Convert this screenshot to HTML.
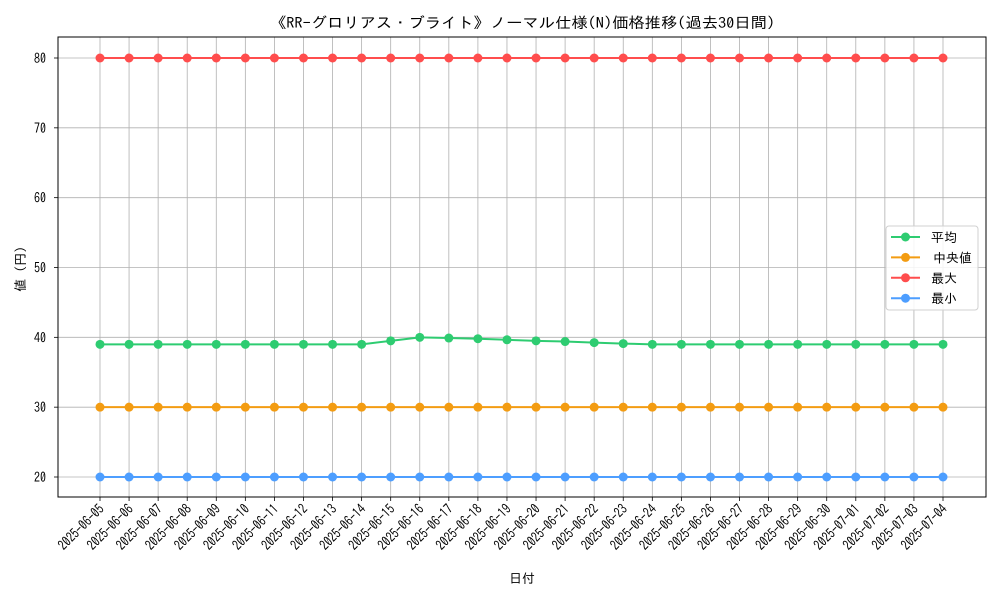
<!DOCTYPE html>
<html><head><meta charset="utf-8"><style>
html,body{margin:0;padding:0;background:#fff;}
svg{display:block;font-family:"IPAGothic","Liberation Sans","Noto Sans CJK JP",sans-serif;}
</style></head><body>
<svg id="chart" width="1000" height="600" viewBox="0 0 1000 600" xmlns="http://www.w3.org/2000/svg">
<rect width="1000" height="600" fill="#fff"/>
<text x="270" y="28" font-size="15" textLength="505" lengthAdjust="spacingAndGlyphs" fill="#000">《RR-グロリアス・ブライト》ノーマル仕様(N)価格推移(過去30日間)</text>
<g id="grid"></g>
<g id="series"></g>
<rect x="58" y="37" width="928" height="460" fill="none" stroke="#000" stroke-width="1"/>
<g id="axes"></g>
<text x="0" y="0" font-size="13" text-anchor="middle" transform="translate(25,269) rotate(-90)">値 (円)</text>
<text x="522" y="583" font-size="13" text-anchor="middle">日付</text>
<g id="legend"></g>
</svg>
<script>
const dates = ["2025-06-05","2025-06-06","2025-06-07","2025-06-08","2025-06-09","2025-06-10","2025-06-11","2025-06-12","2025-06-13","2025-06-14","2025-06-15","2025-06-16","2025-06-17","2025-06-18","2025-06-19","2025-06-20","2025-06-21","2025-06-22","2025-06-23","2025-06-24","2025-06-25","2025-06-26","2025-06-27","2025-06-28","2025-06-29","2025-06-30","2025-07-01","2025-07-02","2025-07-03","2025-07-04"];
const avgValues = [39,39,39,39,39,39,39,39,39,39,39.5,40,39.9,39.8,39.65,39.5,39.4,39.25,39.1,39,39,39,39,39,39,39,39,39,39,39];
const medianValues = [30,30,30,30,30,30,30,30,30,30,30,30,30,30,30,30,30,30,30,30,30,30,30,30,30,30,30,30,30,30];
const maxValues = [80,80,80,80,80,80,80,80,80,80,80,80,80,80,80,80,80,80,80,80,80,80,80,80,80,80,80,80,80,80];
const minValues = [20,20,20,20,20,20,20,20,20,20,20,20,20,20,20,20,20,20,20,20,20,20,20,20,20,20,20,20,20,20];
const yTicks = [20,30,40,50,60,70,80];
const seriesNames = ["平均","中央値","最大","最小"];

const NS="http://www.w3.org/2000/svg";
const X0=100, X1=943, Y20=477, Y80=58;
function xs(i){return X0+(X1-X0)*i/(dates.length-1);}
function ys(v){return Y20+(v-20)*(Y80-Y20)/60;}
function mk(tag,attrs,parent){const e=document.createElementNS(NS,tag);for(const k in attrs)e.setAttribute(k,attrs[k]);parent.appendChild(e);return e;}
const grid=document.getElementById('grid'), axes=document.getElementById('axes'), ser=document.getElementById('series'), leg=document.getElementById('legend');
dates.forEach((d,i)=>{
  const x=xs(i);
  const g=mk('line',{x1:x,x2:x,y1:37,y2:497,stroke:'#b0b0b0','stroke-width':0.8},grid);
  
  
  const t=mk('line',{x1:x,x2:x,y1:497,y2:501,stroke:'#000','stroke-width':0.8},axes);
  
  
  const l=mk('text',{x:-58,y:0,'font-size':14,textLength:58,lengthAdjust:'spacingAndGlyphs',transform:`translate(${x+5},${510}) rotate(-45)`},axes);
  l.textContent=d;
  
  
});
yTicks.forEach(v=>{
  const y=ys(v);
  const g=mk('line',{x1:58,x2:986,y1:y,y2:y,stroke:'#b0b0b0','stroke-width':0.8},grid);
  
  
  const t=mk('line',{x1:54,x2:58,y1:y,y2:y,stroke:'#000','stroke-width':0.8},axes);
  
  
  const l=mk('text',{x:34,y:y+5,'font-size':14,textLength:12,lengthAdjust:'spacingAndGlyphs'},axes);
  l.textContent=v;
  
  
});
const colors=['#2ecc71','#f39c12','#ff4d4d','#4d9eff'];
const all=[avgValues,medianValues,maxValues,minValues];
const order=[2,3,1,0];
order.forEach(si=>{
  const vals=all[si], c=colors[si];
  const g=mk('g',{},ser);
  
  
  const p=mk('polyline',{points:vals.map((v,i)=>xs(i)+','+ys(v)).join(' '),fill:'none',stroke:c,'stroke-width':2},g);
  
  
  vals.forEach((v,i)=>{
    const m=mk('circle',{cx:xs(i),cy:ys(v),r:4.5,fill:c},g);
    
    
  });
});
const box=mk('rect',{x:886,y:226,width:92,height:84,rx:3,fill:'#fff','fill-opacity':0.85,stroke:'#d0d0d0'},leg);


seriesNames.forEach((n,i)=>{
  const y=237+i*20.4;
  const e=mk('g',{},leg);
  
  
  mk('line',{x1:891,x2:920,y1:y,y2:y,stroke:colors[i],'stroke-width':2},e);
  mk('circle',{cx:905.5,cy:y,r:4.5,fill:colors[i]},e);
  const t=mk('text',{x:i==1?933:931,y:y+5,'font-size':13},e);
  t.textContent=n;
});
</script>
</body></html>
